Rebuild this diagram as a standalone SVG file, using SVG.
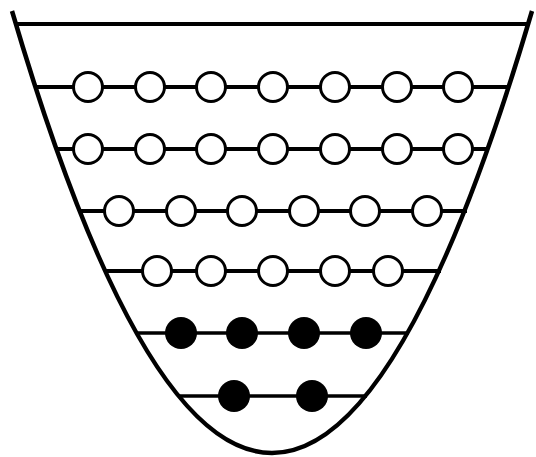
<svg xmlns="http://www.w3.org/2000/svg" width="536" height="457" viewBox="0 0 536 457">
<style>
.lvl{stroke:#000;stroke-width:4;fill:none}
.lvl2{stroke:#000;stroke-width:3.5;fill:none}
.e{fill:#fff;stroke:#000;stroke-width:3}
.f{fill:#000}
</style>
<rect width="536" height="457" fill="#fff"/>
<g id="well">
<path d="M12,11 Q272,895 532,11" fill="none" stroke="#000" stroke-width="4.5"/>
</g>
<g id="connectors">
<line class="lvl" x1="16" y1="24" x2="529" y2="24"/>
<line class="lvl" x1="36" y1="87" x2="510" y2="87"/>
<line class="lvl" x1="57" y1="149" x2="489" y2="149"/>
<line class="lvl" x1="80" y1="211" x2="467" y2="211"/>
<line class="lvl" x1="106" y1="271" x2="441" y2="271"/>
<line class="lvl2" x1="136" y1="333" x2="409" y2="333"/>
<line class="lvl2" x1="178" y1="396" x2="367" y2="396"/>
</g>
<g id="row1">
<circle class="e" cx="88" cy="87" r="14.5"/>
<circle class="e" cx="150" cy="87" r="14.5"/>
<circle class="e" cx="211" cy="87" r="14.5"/>
<circle class="e" cx="273" cy="87" r="14.5"/>
<circle class="e" cx="335" cy="87" r="14.5"/>
<circle class="e" cx="397" cy="87" r="14.5"/>
<circle class="e" cx="458" cy="87" r="14.5"/>
</g>
<g id="row2">
<circle class="e" cx="88" cy="149" r="14.5"/>
<circle class="e" cx="150" cy="149" r="14.5"/>
<circle class="e" cx="211" cy="149" r="14.5"/>
<circle class="e" cx="273" cy="149" r="14.5"/>
<circle class="e" cx="335" cy="149" r="14.5"/>
<circle class="e" cx="397" cy="149" r="14.5"/>
<circle class="e" cx="458" cy="149" r="14.5"/>
</g>
<g id="row3">
<circle class="e" cx="119" cy="211" r="14.5"/>
<circle class="e" cx="181" cy="211" r="14.5"/>
<circle class="e" cx="242" cy="211" r="14.5"/>
<circle class="e" cx="304" cy="211" r="14.5"/>
<circle class="e" cx="365" cy="211" r="14.5"/>
<circle class="e" cx="427" cy="211" r="14.5"/>
</g>
<g id="row4">
<circle class="e" cx="157" cy="271" r="14.5"/>
<circle class="e" cx="211" cy="271" r="14.5"/>
<circle class="e" cx="273" cy="271" r="14.5"/>
<circle class="e" cx="335" cy="271" r="14.5"/>
<circle class="e" cx="388" cy="271" r="14.5"/>
</g>
<g id="row5">
<circle class="f" cx="181" cy="333" r="16"/>
<circle class="f" cx="242" cy="333" r="16"/>
<circle class="f" cx="304" cy="333" r="16"/>
<circle class="f" cx="366" cy="333" r="16"/>
</g>
<g id="row6">
<circle class="f" cx="234" cy="396" r="16"/>
<circle class="f" cx="312" cy="396" r="16"/>
</g>
</svg>
